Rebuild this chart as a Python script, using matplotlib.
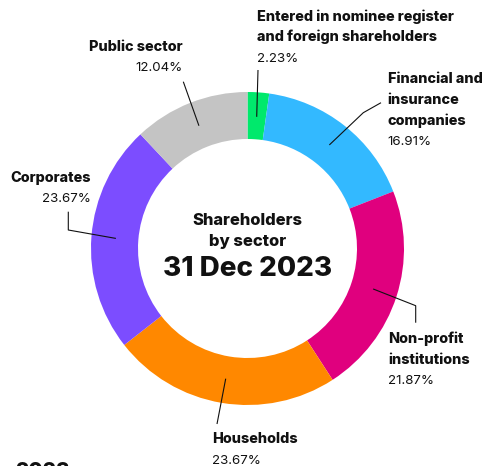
import numpy as np
import matplotlib
matplotlib.use("Agg")
import matplotlib.pyplot as plt

# shareholder split, clockwise from 12 o'clock
SECTORS = [
    "Entered in nominee register\nand foreign shareholders",
    "Financial and\ninsurance\ncompanies",
    "Non-profit\ninstitutions",
    "Households",
    "Corporates",
    "Public sector",
]
SHARES = [2.23, 16.91, 21.87, 23.67, 23.67, 12.04]
COLORS = ["#00E96C", "#33B9FF", "#E0007E", "#FF8800", "#7C4DFF", "#C4C4C4"]

W, H = 484, 466
CX, CY, R, RING = 247.5, 248.5, 156.5, 47  # pixel layout, y measured from top

# label anchor (x, baseline of first line), alignment, leader elbows (from top)
LABEL_POS = [
    (256.7, 20.7, "left", [(258, 70)]),
    (387.7, 83.3, "left", [(363.3, 112.7), (381, 102.7)]),
    (388.3, 343.3, "left", [(415.7, 305.7), (415.7, 322.7)]),
    (212.0, 443.3, "left", [(217, 424)]),
    (90.7, 181.7, "right", [(68.3, 230), (68.3, 211.7)]),
    (182.7, 50.7, "right", [(183.3, 81.7)]),
]
LINE_H = 20.6

FONT = ["Inter", "DejaVu Sans"]
INK = "#111111"


def fy(y):
    return H - y


fig = plt.figure(figsize=(W / 100, H / 100), dpi=100)
ax = fig.add_axes([0, 0, 1, 1])
wedges, _ = ax.pie(SHARES, colors=COLORS, startangle=90, counterclock=False,
                   center=(CX, fy(CY)), radius=R,
                   wedgeprops=dict(width=RING, linewidth=0))
ax.set_xlim(0, W)
ax.set_ylim(0, H)
ax.set_aspect("equal")
ax.axis("off")

for wdg, name, val, (tx, ty, ha, elbows) in zip(wedges, SECTORS, SHARES, LABEL_POS):
    mid = np.deg2rad((wdg.theta1 + wdg.theta2) / 2)
    rm = R - RING / 2 - 1
    pts = [(CX + rm * np.cos(mid), fy(CY) + rm * np.sin(mid))]
    pts += [(x, fy(y)) for x, y in elbows]
    xs, ys = zip(*pts)
    ax.plot(xs, ys, color=INK, lw=0.8, solid_capstyle="butt")

    lines = name.split("\n")
    for i, ln in enumerate(lines):
        ax.text(tx, fy(ty + i * LINE_H), ln, ha=ha, va="baseline",
                fontsize=10.4, fontweight="heavy", color=INK, family=FONT)
    ax.text(tx, fy(ty + len(lines) * LINE_H), f"{val:.2f}%", ha=ha, va="baseline",
            fontsize=9.6, color=INK, family=FONT)

# centre title
ax.text(CX, fy(225), "Shareholders", ha="center", va="baseline",
        fontsize=11.9, fontweight="heavy", color=INK, family=FONT)
ax.text(CX, fy(246), "by sector", ha="center", va="baseline",
        fontsize=11.9, fontweight="heavy", color=INK, family=FONT)
ax.text(CX, fy(276), "31 Dec 2023", ha="center", va="baseline",
        fontsize=20, fontweight="heavy", color=INK, family=FONT)

# next heading peeking in at the bottom edge
ax.text(15, fy(478), "2023", ha="left", va="baseline",
        fontsize=15, fontweight="heavy", color=INK, family=FONT)

fig.savefig("out.png", dpi=100)
